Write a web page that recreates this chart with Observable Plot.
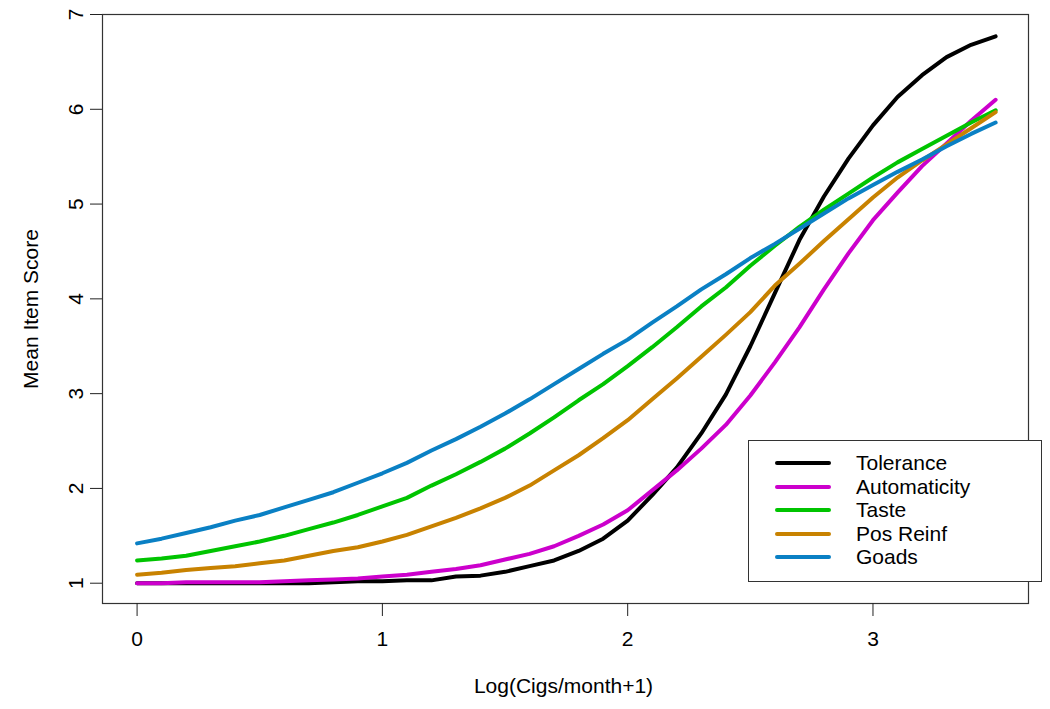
<!DOCTYPE html>
<html>
<head>
<meta charset="utf-8">
<script src="https://cdn.jsdelivr.net/npm/d3@7"></script>
<script src="https://cdn.jsdelivr.net/npm/@observablehq/plot@0.6"></script>
<style>
  body { margin: 0; background: #fff; font-family: "Liberation Sans", Arial, sans-serif; }
  #wrap { position: relative; width: 1050px; height: 709px; }
  #legend { position: absolute; left: 748px; top: 440px; width: 294px; height: 142px;
            border: 1px solid #333; background: #fff; box-sizing: border-box; }
  .sw { position: absolute; left: 26px; width: 56px; height: 4px; border-radius: 2px; }
  .lt { position: absolute; left: 107px; font-size: 21px; line-height: 24px; color: #000; white-space: nowrap; }
</style>
</head>
<body>
<div id="wrap"></div>
<script>
const xValues = [0,0.1,0.2,0.3,0.4,0.5,0.6,0.7,0.8,0.9,1.0,1.1,1.2,1.3,1.4,1.5,1.6,1.7,1.8,1.9,2.0,2.1,2.2,2.3,2.4,2.5,2.6,2.7,2.8,2.9,3.0,3.1,3.2,3.3,3.4,3.5];
const tolerance    = [1.00,1.00,1.00,1.00,1.00,1.00,1.00,1.00,1.01,1.02,1.02,1.03,1.03,1.07,1.08,1.12,1.18,1.24,1.34,1.47,1.66,1.93,2.22,2.58,2.99,3.50,4.06,4.62,5.08,5.48,5.83,6.13,6.36,6.55,6.68,6.77];
const automaticity = [1.00,1.00,1.01,1.01,1.01,1.01,1.02,1.03,1.04,1.05,1.07,1.09,1.12,1.15,1.19,1.25,1.31,1.39,1.50,1.62,1.77,1.98,2.19,2.42,2.67,2.98,3.33,3.70,4.10,4.48,4.83,5.12,5.40,5.64,5.88,6.10];
const taste        = [1.24,1.26,1.29,1.34,1.39,1.44,1.50,1.57,1.64,1.72,1.81,1.90,2.03,2.15,2.28,2.42,2.58,2.75,2.93,3.10,3.29,3.49,3.70,3.92,4.12,4.35,4.56,4.76,4.94,5.11,5.28,5.44,5.58,5.72,5.86,5.99];
const posReinf     = [1.09,1.11,1.14,1.16,1.18,1.21,1.24,1.29,1.34,1.38,1.44,1.51,1.60,1.69,1.79,1.90,2.03,2.19,2.35,2.53,2.72,2.94,3.16,3.39,3.62,3.86,4.14,4.37,4.61,4.84,5.07,5.28,5.46,5.63,5.80,5.97];
const goads        = [1.42,1.47,1.53,1.59,1.66,1.72,1.80,1.88,1.96,2.06,2.16,2.27,2.40,2.52,2.65,2.79,2.94,3.10,3.26,3.42,3.57,3.75,3.92,4.10,4.26,4.43,4.58,4.74,4.90,5.06,5.20,5.34,5.47,5.61,5.74,5.86];

const seriesNames  = ["Tolerance","Automaticity","Taste","Pos Reinf","Goads"];
const seriesValues = [tolerance, automaticity, taste, posReinf, goads];
const seriesColors = ["#000000","#CC00CC","#00C400","#C88200","#0A80C4"];

const xTicks = [0,1,2,3];
const yTicks = [1,2,3,4,5,6,7];
const xTitle = "Log(Cigs/month+1)";
const yTitle = "Mean Item Score";

const rows = [];
seriesNames.forEach((name, i) => {
  xValues.forEach((x, j) => rows.push({series: name, x, y: seriesValues[i][j]}));
});

const font = '"Liberation Sans", Arial, sans-serif';

const chart = Plot.plot({
  width: 1050,
  height: 709,
  marginLeft: 102,
  marginRight: 22,
  marginTop: 14,
  marginBottom: 106,
  style: {fontFamily: font, fontSize: "21px", color: "#000", background: "#fff"},
  x: {domain: [-0.141, 3.634]},
  y: {domain: [0.786, 7]},
  color: {domain: seriesNames, range: seriesColors},
  marks: [
    Plot.frame({stroke: "#333", strokeWidth: 1.2}),
    Plot.axisX({ticks: xTicks, tickSize: 13, tickPadding: 15, fontSize: 21, label: null, tickFormat: d => String(d), stroke: "#222"}),
    Plot.axisY({ticks: yTicks, tickSize: 12, tickPadding: 8, tickRotate: -90, fontSize: 21, label: null, tickFormat: d => String(d), stroke: "#222"}),
    Plot.line(rows, {x: "x", y: "y", z: "series", stroke: "series", strokeWidth: 4, strokeLinecap: "round", strokeLinejoin: "round"}),
    Plot.text([xTitle], {frameAnchor: "bottom", dx: -2, dy: 89, text: d => d, fontSize: 21, lineAnchor: "bottom"}),
    Plot.text([yTitle], {frameAnchor: "left", dx: -65, rotate: -90, text: d => d, fontSize: 21, lineAnchor: "bottom", textAnchor: "middle"})
  ]
});

const wrap = document.getElementById("wrap");
wrap.appendChild(chart);

const legend = document.createElement("div");
legend.id = "legend";
seriesNames.forEach((name, i) => {
  const cy = 22 + i * 23.5;
  const sw = document.createElement("div");
  sw.className = "sw";
  sw.style.top = (cy - 2) + "px";
  sw.style.background = seriesColors[i];
  legend.appendChild(sw);
  const t = document.createElement("div");
  t.className = "lt";
  t.style.top = (cy - 12) + "px";
  t.textContent = name;
  legend.appendChild(t);
});
wrap.appendChild(legend);
</script>
</body>
</html>
